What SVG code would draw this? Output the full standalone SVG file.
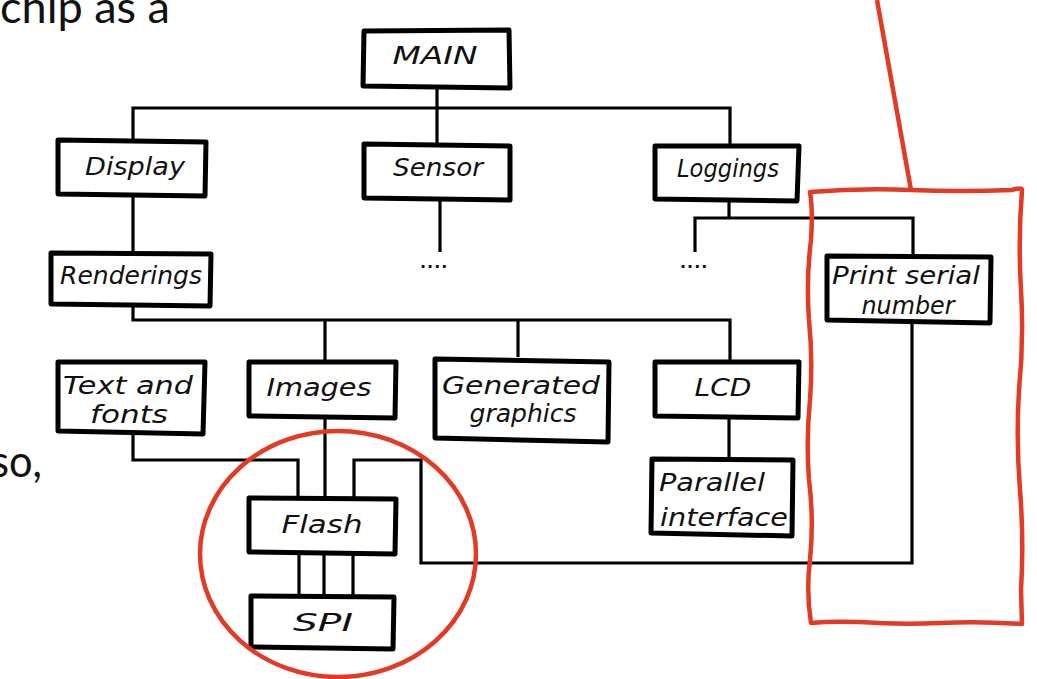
<svg xmlns="http://www.w3.org/2000/svg" width="1037" height="679" viewBox="0 0 1037 679">
<style>
.box{fill:#fff;stroke:#000;stroke-width:5;stroke-linejoin:round}
.lbl{font-family:"DejaVu Sans","Liberation Sans",sans-serif;font-style:italic;font-size:24px;fill:#111;text-anchor:middle}
.con{fill:none;stroke:#000;stroke-width:3.2;stroke-linejoin:miter}
.red{fill:none;stroke:#e23a24;stroke-width:4.5;stroke-linejoin:round}
.body{font-family:Lato,"Open Sans",sans-serif;font-size:44px;fill:#111}
.dots{font-family:"DejaVu Sans",sans-serif;font-size:16px;font-weight:bold;fill:#111}
</style>
<rect width="1037" height="679" fill="#fff"/>
<text class="body" x="0" y="23" textLength="170" lengthAdjust="spacingAndGlyphs">chip as a</text>
<text class="body" x="-9" y="477" textLength="51" lengthAdjust="spacingAndGlyphs">so,</text>

<g id="connectors">
<path class="con" d="M437 88 V143"/>
<path class="con" d="M133 140 V108 H730 V144"/>
<path class="con" d="M440 200 V252"/>
<path class="con" d="M133 195 V252"/>
<path class="con" d="M729 202 V218"/>
<path class="con" d="M695 252 V218 H913 V255"/>
<path class="con" d="M133 306 V320 H730 V360"/>
<path class="con" d="M325 320 V360"/>
<path class="con" d="M518 320 V357"/>
<path class="con" d="M729 418 V458"/>
<path class="con" d="M133 435 V460 H298 V497"/>
<path class="con" d="M325 418 V497"/>
<path class="con" d="M912 322 V563 H421 V460 H354 V497"/>
<path class="con" d="M299 555 V595 M324 555 V595 M353 555 V595"/>
</g>
<text class="dots" x="420" y="268" letter-spacing="1">....</text>
<text class="dots" x="680" y="268" letter-spacing="1">....</text>

<g id="n-main"><path class="box" d="M364 31 L509 30 L510 88 L363 86 Z"/><text class="lbl" x="435" y="64" textLength="85" lengthAdjust="spacingAndGlyphs">MAIN</text></g>
<g id="n-display"><path class="box" d="M58 140 L206 142 L205 196 L58 194 Z"/><text class="lbl" x="135" y="175" textLength="100" lengthAdjust="spacingAndGlyphs">Display</text></g>
<g id="n-sensor"><path class="box" d="M364 144 L510 146 L510 200 L364 198 Z"/><text class="lbl" x="438" y="176" textLength="90" lengthAdjust="spacingAndGlyphs">Sensor</text></g>
<g id="n-loggings"><path class="box" d="M655 146 L799 146 L797 201 L655 199 Z"/><text class="lbl" x="728" y="177" textLength="102" lengthAdjust="spacingAndGlyphs">Loggings</text></g>
<g id="n-print"><path class="box" d="M827 256 L991 257 L990 323 L827 320 Z"/><text class="lbl" x="906" y="284" textLength="148" lengthAdjust="spacingAndGlyphs">Print serial</text><text class="lbl" x="908" y="314" textLength="93" lengthAdjust="spacingAndGlyphs">number</text></g>
<g id="n-renderings"><path class="box" d="M51 253 L211 254 L210 306 L51 304 Z"/><text class="lbl" x="131" y="284" textLength="142" lengthAdjust="spacingAndGlyphs">Renderings</text></g>
<g id="n-textfonts"><path class="box" d="M58 362 L205 362 L203 434 L58 431 Z"/><text class="lbl" x="128" y="394" textLength="130" lengthAdjust="spacingAndGlyphs">Text and</text><text class="lbl" x="129" y="423" textLength="78" lengthAdjust="spacingAndGlyphs">fonts</text></g>
<g id="n-images"><path class="box" d="M249 362 L396 362 L395 418 L249 416 Z"/><text class="lbl" x="319" y="396" textLength="105" lengthAdjust="spacingAndGlyphs">Images</text></g>
<g id="n-generated"><path class="box" d="M435 359 L609 362 L608 442 L435 438 Z"/><text class="lbl" x="521" y="394" textLength="158" lengthAdjust="spacingAndGlyphs">Generated</text><text class="lbl" x="523" y="422" textLength="107" lengthAdjust="spacingAndGlyphs">graphics</text></g>
<g id="n-lcd"><path class="box" d="M655 362 L799 362 L798 418 L655 416 Z"/><text class="lbl" x="723" y="396" textLength="57" lengthAdjust="spacingAndGlyphs">LCD</text></g>
<g id="n-parallel"><path class="box" d="M652 459 L793 460 L792 536 L651 533 Z"/><text class="lbl" x="712" y="491" textLength="106" lengthAdjust="spacingAndGlyphs">Parallel</text><text class="lbl" x="724" y="526" textLength="128" lengthAdjust="spacingAndGlyphs">interface</text></g>
<g id="n-flash"><path class="box" d="M249 498 L396 499 L395 554 L249 552 Z"/><text class="lbl" x="322" y="533" textLength="81" lengthAdjust="spacingAndGlyphs">Flash</text></g>
<g id="n-spi"><path class="box" d="M251 596 L394 597 L393 649 L251 647 Z"/><text class="lbl" x="323" y="631" textLength="60" lengthAdjust="spacingAndGlyphs">SPI</text></g>

<g id="highlights">
<ellipse class="red" cx="338" cy="554" rx="138" ry="123"/>
<path class="red" d="M877 0 L911 190"/>
<path class="red" d="M810 192 Q860 188 911 190 Q960 192 1012 190 Q1022 187 1022 190 Q1018 240 1021 290 Q1024 340 1019 390 Q1016 440 1020 490 Q1024 540 1021 590 L1022 624 Q980 621 940 623 Q900 625 860 622 Q830 621 811 623 Q806 590 810 560 Q814 520 809 480 Q806 440 810 400 Q813 360 809 320 Q806 280 811 240 Q813 210 810 192 Z"/>
</g>
</svg>
